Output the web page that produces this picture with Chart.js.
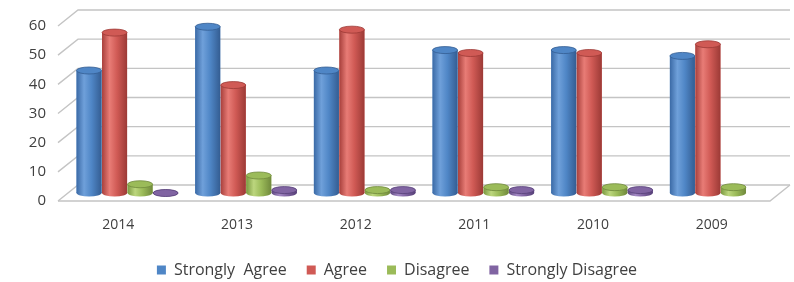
<!DOCTYPE html>
<html lang="en">
<head>
    <meta charset="UTF-8">
    <title>Survey responses by year</title>
    <script src="https://cdn.jsdelivr.net/npm/chart.js"></script>
    <style>
        body {
            margin: 0;
            background: #ffffff;
        }
        .wrap {
            width: 794px;
            height: 282px;
        }
    </style>
</head>
<body>
    <div class="wrap">
        <canvas id="surveyChart" width="794" height="282"></canvas>
    </div>

    <script>
        const years = ['2014', '2013', '2012', '2011', '2010', '2009'];
        const stronglyAgree = [42, 57, 42, 49, 49, 47];
        const agree = [55, 37, 56, 48, 48, 51];
        const disagree = [3, 6, 1, 2, 2, 2];
        const stronglyDisagree = [0, 1, 1, 1, 1, null];
        const yTicks = [0, 10, 20, 30, 40, 50, 60];

        const seriesColors = {
            'Strongly  Agree': ['#3b6aa6', '#6fa0da', '#4f86c6', '#345d92'],
            'Agree': ['#a8403c', '#e87c76', '#d05a55', '#9c3a36'],
            'Disagree': ['#7a9940', '#bcd67e', '#9bbb59', '#70893c'],
            'Strongly Disagree': ['#5f4780', '#a48ac4', '#8064a2', '#574078']
        };

        const depth = { dx: 10, dy: 8 };

        // back wall, floor and slanted tick lines
        const framePlugin = {
            id: 'frame',
            afterLayout(chart) {
                // legend sits a little right of centre in the original
                chart.legend.left += 7;
                chart.legend.right += 7;
            },
            beforeDatasetsDraw(chart) {
                const { ctx, chartArea, scales } = chart;
                const y = scales.y;
                ctx.save();
                ctx.strokeStyle = '#c4c4c4';
                ctx.lineWidth = 1.4;
                yTicks.forEach(v => {
                    const py = y.getPixelForValue(v);
                    ctx.beginPath();
                    ctx.moveTo(chartArea.left - depth.dx, py + depth.dy);
                    ctx.lineTo(chartArea.left + depth.dx, py - depth.dy);
                    ctx.lineTo(chartArea.right + depth.dx, py - depth.dy);
                    ctx.stroke();
                });
                const p0 = y.getPixelForValue(0);
                ctx.beginPath();
                ctx.moveTo(chartArea.left - depth.dx, p0 + depth.dy);
                ctx.lineTo(chartArea.right - depth.dx, p0 + depth.dy);
                ctx.lineTo(chartArea.right + depth.dx, p0 - depth.dy);
                ctx.stroke();
                ctx.restore();
            }
        };

        // shade the bars as cylinders using the bar geometry from Chart.js
        const cylinderPlugin = {
            id: 'cylinders',
            afterDatasetsDraw(chart) {
                const { ctx } = chart;
                chart.data.datasets.forEach((ds, i) => {
                    const meta = chart.getDatasetMeta(i);
                    if (meta.hidden) return;
                    const c = seriesColors[ds.label];
                    meta.data.forEach((bar, j) => {
                        if (ds.data[j] === null) return;
                        const { x, y, base, width } = bar.getProps(['x', 'y', 'base', 'width'], true);
                        const left = x - width / 2;
                        const rx = width / 2;
                        const ry = 3.5;
                        const g = ctx.createLinearGradient(left, 0, left + width, 0);
                        g.addColorStop(0, c[0]);
                        g.addColorStop(0.3, c[1]);
                        g.addColorStop(0.6, c[2]);
                        g.addColorStop(1, c[3]);
                        ctx.save();
                        ctx.fillStyle = g;
                        ctx.beginPath();
                        ctx.ellipse(x, base, rx, ry, 0, 0, Math.PI * 2);
                        ctx.fill();
                        ctx.fillRect(left, y, width, base - y);
                        ctx.fillStyle = c[2];
                        ctx.beginPath();
                        ctx.ellipse(x, y, rx, ry, 0, 0, Math.PI * 2);
                        ctx.fill();
                        ctx.strokeStyle = c[3];
                        ctx.lineWidth = 0.8;
                        ctx.stroke();
                        ctx.restore();
                    });
                });
            }
        };

        const textColor = '#404040';

        new Chart(document.getElementById('surveyChart'), {
            type: 'bar',
            data: {
                labels: years,
                datasets: [
                    { label: 'Strongly  Agree', data: stronglyAgree, backgroundColor: '#4f86c6' },
                    { label: 'Agree', data: agree, backgroundColor: '#d05a55' },
                    { label: 'Disagree', data: disagree, backgroundColor: '#9bbb59' },
                    { label: 'Strongly Disagree', data: stronglyDisagree, backgroundColor: '#8064a2' }
                ]
            },
            options: {
                responsive: false,
                animation: false,
                layout: { padding: { top: 18, right: 14, left: 0, bottom: -6 } },
                datasets: {
                    bar: { categoryPercentage: 0.86, barPercentage: 0.98 }
                },
                scales: {
                    x: {
                        grid: { display: false, drawTicks: false },
                        border: { display: false },
                        ticks: {
                            color: textColor,
                            font: { family: 'Open Sans', size: 14 },
                            padding: 24,
                            labelOffset: -9
                        },
                        afterFit(scale) { scale.height = 49; }
                    },
                    y: {
                        min: 0,
                        max: 60,
                        grid: { display: false, drawTicks: false },
                        border: { display: false },
                        ticks: {
                            stepSize: 10,
                            color: textColor,
                            font: { family: 'Open Sans', size: 15 },
                            padding: 22,
                            labelOffset: 8
                        },
                        afterFit(scale) {
                            scale.width = 68;
                            scale.paddingTop = 0;
                            scale.paddingBottom = 0;
                        }
                    }
                },
                plugins: {
                    legend: {
                        position: 'bottom',
                        labels: {
                            color: textColor,
                            font: { family: 'Open Sans', size: 16 },
                            boxWidth: 9,
                            boxHeight: 9,
                            padding: 20
                        }
                    },
                    tooltip: { enabled: false }
                }
            },
            plugins: [framePlugin, cylinderPlugin]
        });
    </script>
</body>
</html>
